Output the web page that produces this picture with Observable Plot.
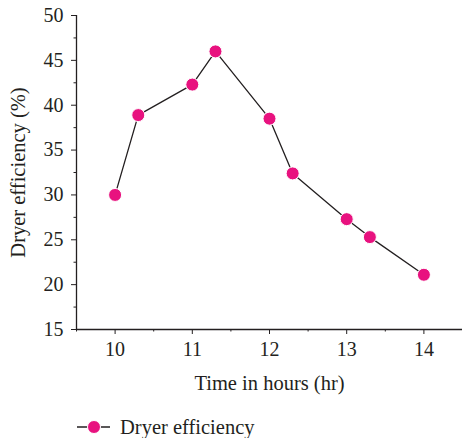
<!DOCTYPE html>
<html>
<head>
<meta charset="utf-8">
<script src="https://cdn.jsdelivr.net/npm/d3@7"></script>
<script src="https://cdn.jsdelivr.net/npm/@observablehq/plot@0.6"></script>
<style>
  body { margin: 0; background: #fff; font-family: "Liberation Serif", "DejaVu Serif", serif; color: #231f20; }
  #legend { position: relative; height: 38px; }
</style>
</head>
<body>
<div id="chart"></div>
<div id="legend"></div>
<script>
const hours = [10, 10.3, 11, 11.3, 12, 12.3, 13, 13.3, 14];
const efficiency = [30.0, 38.9, 42.3, 46.0, 38.5, 32.4, 27.3, 25.3, 21.1];
const xTicks = [10, 11, 12, 13, 14];
const xMinor = [9.5, 10.5, 11.5, 12.5, 13.5, 14.5];
const yTicks = [15, 20, 25, 30, 35, 40, 45, 50];
const yMinor = [17.5, 22.5, 27.5, 32.5, 37.5, 42.5, 47.5];
const seriesName = "Dryer efficiency";
const xLabel = "Time in hours (hr)";
const yLabel = "Dryer efficiency (%)";

const data = hours.map((h, i) => ({h, e: efficiency[i]}));
const ink = "#231f20";
const pink = "#e8127f";

const chart = Plot.plot({
  width: 462,
  height: 400,
  marginTop: 15,
  marginLeft: 76,
  marginRight: 0,
  marginBottom: 71,
  style: {fontFamily: "'Liberation Serif', serif", fontSize: "20px", color: ink, background: "#fff"},
  x: {domain: [9.5, 14.5]},
  y: {domain: [15, 50]},
  marks: [
    Plot.axisY({ticks: yTicks, tickSize: 5, tickPadding: 8, tickFormat: d => String(d), label: null, fontSize: 20, stroke: ink}),
    Plot.axisY({ticks: yMinor, tickSize: 2.5, tickFormat: () => "", label: null, stroke: ink}),
    Plot.axisX({ticks: xTicks, tickSize: 5, tickPadding: 7, tickFormat: d => String(d), label: null, fontSize: 20, stroke: ink}),
    Plot.axisX({ticks: xMinor, tickSize: 2.5, tickFormat: () => "", label: null, stroke: ink}),
    Plot.ruleX([9.5], {stroke: ink, strokeWidth: 1.3}),
    Plot.ruleY([15], {stroke: ink, strokeWidth: 1.3}),
    Plot.text([xLabel], {frameAnchor: "bottom", textAnchor: "middle", lineAnchor: "middle", dy: 54, fontSize: 20.5, fill: ink}),
    Plot.text([yLabel], {frameAnchor: "left", textAnchor: "middle", lineAnchor: "middle", dx: -58, rotate: -90, fontSize: 20.5, fill: ink}),
    Plot.line(data, {x: "h", y: "e", stroke: ink, strokeWidth: 1.3}),
    Plot.dot(data, {x: "h", y: "e", r: 6.5, fill: pink, stroke: "#fff", strokeWidth: 1})
  ]
});
document.getElementById("chart").appendChild(chart);

// Legend
const lg = d3.select("#legend").append("svg").attr("width", 462).attr("height", 38);
lg.append("line").attr("x1", 77).attr("x2", 110).attr("y1", 27).attr("y2", 27).attr("stroke", ink).attr("stroke-width", 1.3);
lg.append("circle").attr("cx", 94).attr("cy", 27).attr("r", 6.5).attr("fill", pink).attr("stroke", "#fff").attr("stroke-width", 1);
lg.append("text").attr("x", 120).attr("y", 34).attr("font-size", 20.5).attr("fill", ink)
  .attr("font-family", "'Liberation Serif', serif").text(seriesName);
</script>
</body>
</html>
